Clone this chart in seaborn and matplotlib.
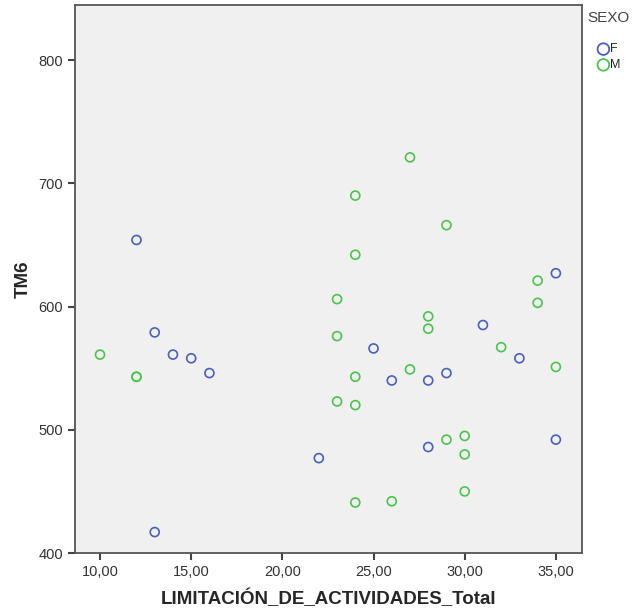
import matplotlib
matplotlib.use("Agg")
import matplotlib.pyplot as plt
import pandas as pd
import seaborn as sns

# F (blue)
f_x = [12, 13, 14, 15, 16, 13, 22, 25, 26, 28, 29, 28, 31, 33, 35, 35]
f_y = [654, 579, 561, 558, 546, 417, 477, 566, 540, 540, 546, 486, 585, 558, 627, 492]
# M (green)
m_x = [10, 12, 12, 27, 24, 29, 24, 23, 34, 34, 28, 28, 23, 32, 27, 24, 35,
       23, 24, 29, 30, 30, 24, 26, 30]
m_y = [561, 543, 543, 721, 690, 666, 642, 606, 621, 603, 592, 582, 576, 567, 549, 543, 551,
       523, 520, 492, 495, 480, 441, 442, 450]

x_ticks = [10, 15, 20, 25, 30, 35]
y_ticks = [400, 500, 600, 700, 800]

df = pd.DataFrame({
    "LIMITACIÓN_DE_ACTIVIDADES_Total": f_x + m_x,
    "TM6": f_y + m_y,
    "SEXO": ["F"] * len(f_x) + ["M"] * len(m_x),
})

sns.set_style("white")
plt.rcParams["font.family"] = ["Liberation Sans", "DejaVu Sans"]

fig = plt.figure(figsize=(6.36, 6.14), dpi=100)
ax = fig.add_axes([0.118, 0.0993, 0.797, 0.8925])
ax.set_facecolor("#f0f0f0")

palette = {"F": "#4a5fbe", "M": "#4cc44c"}
for sexo, color in palette.items():
    sub = df[df["SEXO"] == sexo]
    sns.scatterplot(data=sub, x="LIMITACIÓN_DE_ACTIVIDADES_Total", y="TM6", ax=ax,
                    marker="o", s=42, facecolors="none", edgecolor=color,
                    linewidth=1.2, label=sexo)

ax.set_xlim(8.63, 36.43)
ax.set_ylim(400, 844.6)
ax.set_xticks(x_ticks)
ax.set_xticklabels([f"{v:.2f}".replace(".", ",") for v in x_ticks])
ax.set_yticks(y_ticks)
ax.tick_params(axis="both", direction="out", length=5, width=1.5, color="#444444",
               labelsize=10.5, labelcolor="#333333", bottom=True, left=True)
for sp in ax.spines.values():
    sp.set_color("#555555")
    sp.set_linewidth(1.3)

ax.set_xlabel("LIMITACIÓN_DE_ACTIVIDADES_Total", fontsize=13.5, fontweight="bold", labelpad=8)
ax.set_ylabel("TM6", fontsize=13.5, fontweight="bold", labelpad=5)

fig.text(587 / 636, 1 - 18 / 614, "SEXO", fontsize=11, color="#444444", va="center", ha="left")
leg = ax.legend(loc="upper left", bbox_to_anchor=(1.03, 0.93), frameon=False,
                fontsize=9, handletextpad=0.05, borderaxespad=0, borderpad=0,
                labelspacing=0.3, handlelength=1.0)
for h in leg.legend_handles:
    h.set_sizes([70])
    h.set_facecolor("none")
    h.set_linewidth(1.3)

fig.savefig("out.png", dpi=100)
